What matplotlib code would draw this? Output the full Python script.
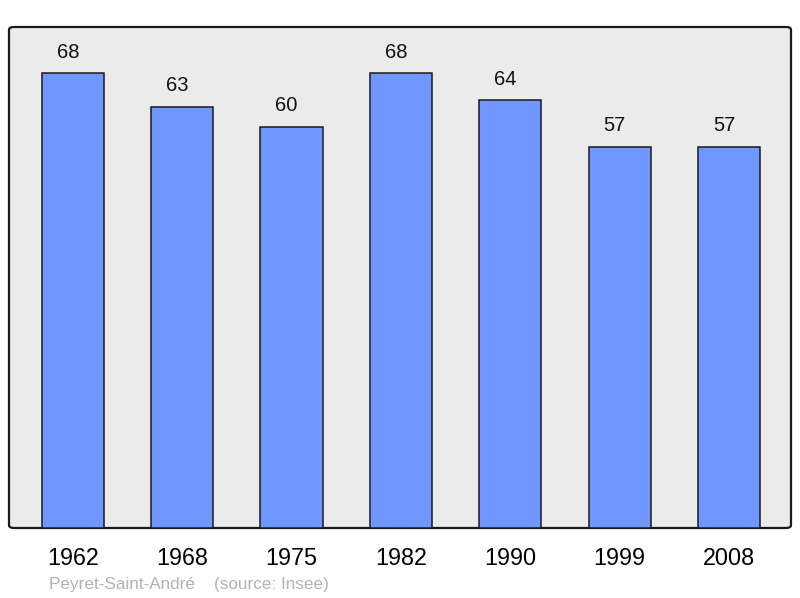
import matplotlib.pyplot as plt
from matplotlib.patches import FancyBboxPatch
from matplotlib.transforms import offset_copy

years = ['1962', '1968', '1975', '1982', '1990', '1999', '2008']
population = [68, 63, 60, 68, 64, 57, 57]

plt.rcParams['font.family'] = ['Liberation Sans', 'DejaVu Sans']

fig = plt.figure(figsize=(8, 5.98), dpi=100)
ax = fig.add_axes([9 / 800, 70 / 598, 782 / 800, 501 / 598])
ax.set_facecolor('none')

# rounded frame behind the bars
frame = FancyBboxPatch((0, 0), 1, 1, boxstyle='round,pad=0,rounding_size=0.006',
                       transform=ax.transAxes, facecolor='#ebebeb',
                       edgecolor='#1a1a1a', linewidth=1.6, zorder=0, clip_on=False)
ax.add_patch(frame)

x = range(len(years))
ax.bar(x, population, width=0.57, color='#7097ff', edgecolor='#1a1a1a',
       linewidth=1.1, zorder=2)
# value labels sit slightly left of the bar centre in the original
lbl_tr = offset_copy(ax.transData, fig=fig, x=-5, y=0, units='dots')
for i, v in zip(x, population):
    ax.text(i, v + 1.7, str(v), ha='center', va='bottom', fontsize=14.5,
            color='#111111', transform=lbl_tr)

ax.set_xlim(-0.585, 6.567)
ax.set_ylim(0, 74.9)
ax.set_xticks(list(x))
ax.set_xticklabels(years, fontsize=16.8)
ax.tick_params(axis='x', length=0, pad=14)
ax.set_yticks([])
for s in ax.spines.values():
    s.set_visible(False)

fig.text(49 / 800, 1 - 585 / 598, 'Peyret-Saint-André    (source: Insee)',
         fontsize=12.3, color='#b3b3b3', va='center', ha='left')

fig.savefig('out.png', dpi=100)
